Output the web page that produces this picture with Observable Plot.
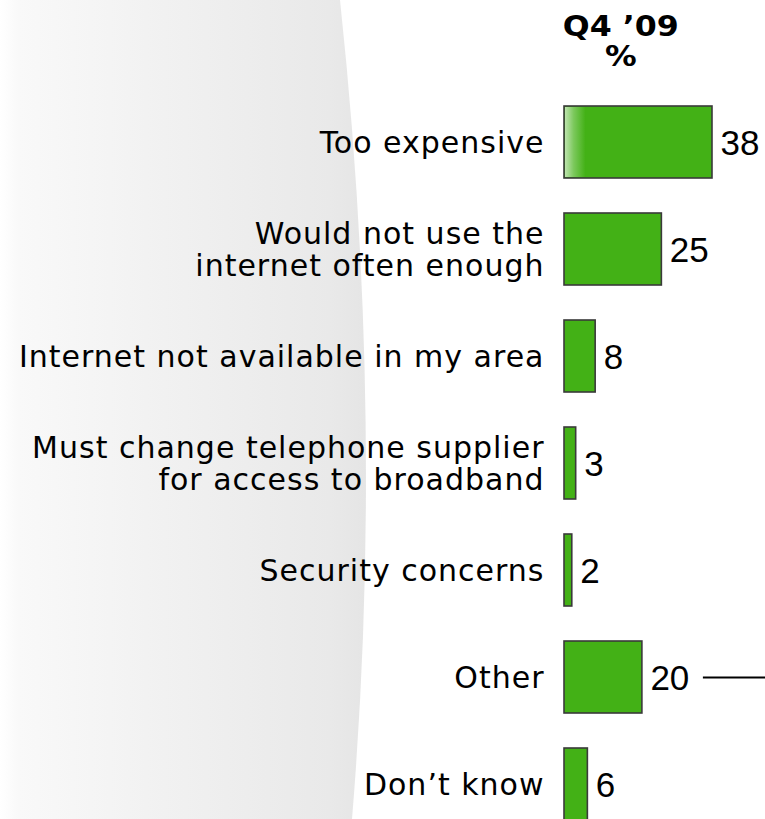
<!DOCTYPE html>
<html>
<head>
<meta charset="utf-8">
<script src="https://cdn.jsdelivr.net/npm/d3@7"></script>
<script src="https://cdn.jsdelivr.net/npm/@observablehq/plot@0.6"></script>
<style>
  html, body { margin: 0; padding: 0; background: #ffffff; }
  #wrap { position: relative; width: 765px; height: 819px; overflow: hidden; }
  #bg { position: absolute; left: 0; top: 0; }
  #header {
    position: absolute; left: 541px; width: 160px; top: 12px;
    text-align: center; font-family: "DejaVu Sans", Verdana, sans-serif;
    font-weight: bold; font-size: 28px; line-height: 30px; color: #000;
    transform: scaleX(1.13); transform-origin: 81px 0;
  }
  #chart { position: absolute; left: 0; top: 0; }
</style>
</head>
<body>
<div id="wrap">
  <svg id="bg" width="765" height="819">
    <defs>
      <linearGradient id="swoosh" x1="0" x2="1" y1="0" y2="0">
        <stop offset="0" stop-color="#ffffff"/>
        <stop offset="0.05" stop-color="#f9f9f9"/>
        <stop offset="0.45" stop-color="#f1f1f1"/>
        <stop offset="0.9" stop-color="#e9e9e9"/>
        <stop offset="1" stop-color="#e5e5e5"/>
      </linearGradient>
    </defs>
    <path d="M0,0 L340,0 Q385,420 352,819 L0,819 Z" fill="url(#swoosh)"/>
  </svg>
  <div id="header">Q4 ’09<br>%</div>
  <div id="chart"></div>
</div>
<script>
const categories = [
  "Too expensive",
  "Would not use the\ninternet often enough",
  "Internet not available in my area",
  "Must change telephone supplier\nfor access to broadband",
  "Security concerns",
  "Other",
  "Don’t know"
];
const values = [38, 25, 8, 3, 2, 20, 6];
const connectorCategory = ["Other"];

const data = categories.map((c, i) => ({label: c, value: values[i]}));
const connector = data.filter(d => connectorCategory.includes(d.label));

const plot = Plot.plot({
  width: 765,
  height: 819,
  margin: 0,
  style: {background: "transparent", overflow: "visible"},
  x: {domain: [0, 38], range: [564, 712], axis: null},
  y: {domain: categories, range: [87.4, 837.6], paddingInner: 0.328, paddingOuter: 0.164, axis: null},
  marks: [
    Plot.barX(data, {
      y: "label", x: "value",
      fill: "#43b116", stroke: "#3a3a3a", strokeWidth: 1.6
    }),
    Plot.barX(data.slice(0, 1), {
      y: "label", x: "value",
      fill: "url(#sheen)", stroke: "none", inset: 1
    }),
    Plot.text(data, {
      y: "label", x: 0, text: "label",
      textAnchor: "end", dx: -20, lineHeight: 1.07,
      fontFamily: "DejaVu Sans, Verdana, sans-serif", fontSize: 30, fill: "#000"
    }),
    Plot.text(data, {
      y: "label", x: "value", text: d => String(d.value),
      textAnchor: "start", dx: 8, dy: 1,
      fontFamily: "Liberation Sans, Arial, sans-serif", fontSize: 35, fill: "#000"
    }),
    Plot.ruleY(connector, {
      y: "label", x1: "value", x2: "value",
      insetLeft: 61, insetRight: -130,
      stroke: "#000", strokeWidth: 2
    })
  ]
});

const ns = "http://www.w3.org/2000/svg";
const defs = document.createElementNS(ns, "defs");
const grad = document.createElementNS(ns, "linearGradient");
grad.setAttribute("id", "sheen");
grad.setAttribute("x1", "0"); grad.setAttribute("x2", "1");
grad.setAttribute("y1", "0"); grad.setAttribute("y2", "0");
[["0", "#ffffff", "0.65"], ["0.06", "#ffffff", "0.3"], ["0.14", "#ffffff", "0"], ["1", "#ffffff", "0"]].forEach(([o, c, a]) => {
  const s = document.createElementNS(ns, "stop");
  s.setAttribute("offset", o); s.setAttribute("stop-color", c); s.setAttribute("stop-opacity", a);
  grad.appendChild(s);
});
defs.appendChild(grad);
plot.insertBefore(defs, plot.firstChild);

const textGroups = plot.querySelectorAll('g[aria-label="text"]');
if (textGroups.length) textGroups[0].setAttribute("letter-spacing", "1px");

document.getElementById("chart").appendChild(plot);
</script>
</body>
</html>
